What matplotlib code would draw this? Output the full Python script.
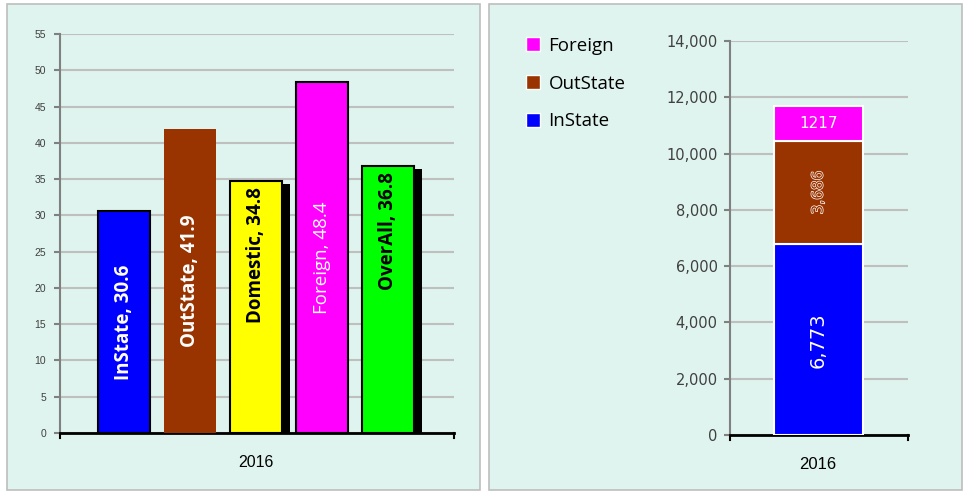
import matplotlib.pyplot as plt
import matplotlib.patheffects as pe
from matplotlib.patches import Rectangle, Patch
from matplotlib.ticker import FuncFormatter

# left panel: average values per group
GROUPS = ["InState", "OutState", "Domestic", "Foreign", "OverAll"]
GROUP_VALUES = [30.6, 41.9, 34.8, 48.4, 36.8]
GROUP_COLORS = ["#0000FF", "#993300", "#FFFF00", "#FF00FF", "#00FF00"]
LEFT_TICKS = list(range(0, 60, 5))

# right panel: stacked counts
YEAR = "2016"
STACK_NAMES = ["InState", "OutState", "Foreign"]
STACK_VALUES = [6773, 3686, 1217]
STACK_LABELS = ["6,773", "3,686", "1217"]
STACK_COLORS = ["#0000FF", "#993300", "#FF00FF"]
RIGHT_TICKS = list(range(0, 16000, 2000))

PANEL_BG = "#DFF4EE"
GRID = "#BFBFBF"

W, H = 963, 491


def fx(px):
    return px / W


def fy(py):
    return 1 - py / H


fig = plt.figure(figsize=(9.63, 4.91), dpi=100)
fig.patch.set_facecolor("white")

# panel backgrounds
for x0, x1 in [(7, 480), (489, 962)]:
    fig.add_artist(Rectangle((fx(x0), fy(490)), fx(x1 - x0), (490 - 4) / H,
                             transform=fig.transFigure, facecolor=PANEL_BG,
                             edgecolor="#BDBDBD", linewidth=1.2, zorder=0))

# ---------------- left chart ----------------
ax1 = fig.add_axes([fx(60), fy(433), fx(394), 399 / H])
ax1.set_facecolor("none")
ax1.set_xlim(-0.97, 5.0)
ax1.set_ylim(0, 55)

xs = list(range(len(GROUPS)))
for x, val, col, name in zip(xs, GROUP_VALUES, GROUP_COLORS, GROUPS):
    edge = "none" if name == "OutState" else "black"
    if name in ("Domestic", "OverAll"):
        # drop shadow
        ax1.bar(x + 0.12, val, width=0.79, bottom=-0.45, color="black", zorder=2)
    ax1.bar(x, val, width=0.79, color=col, edgecolor=edge, linewidth=1.5, zorder=3)

label_style = {
    "InState": ("white", "bold"),
    "OutState": ("white", "bold"),
    "Domestic": ("black", "bold"),
    "Foreign": ("white", "normal"),
    "OverAll": ("black", "bold"),
}
for x, val, name in zip(xs, GROUP_VALUES, GROUPS):
    color, weight = label_style[name]
    txt = f"{name}, {val}"
    if name in ("Domestic", "OverAll"):
        ax1.text(x, val - 0.9, txt, rotation=90, ha="center", va="top",
                 color=color, fontweight=weight, fontsize=13.5,
                 family="Open Sans", zorder=4)
    else:
        ax1.text(x, val / 2, txt, rotation=90, ha="center", va="center",
                 color=color, fontweight=weight, fontsize=13.5,
                 family="Open Sans", zorder=4)

ax1.set_yticks(LEFT_TICKS)
ax1.yaxis.grid(True, color=GRID, linewidth=1.5, zorder=0)
ax1.set_axisbelow(True)
ax1.tick_params(axis="y", labelsize=7.5, colors="#808080", labelcolor="#404040",
                length=4, width=1.5, pad=6)
for lab in ax1.get_yticklabels():
    lab.set_family("Liberation Sans")
ax1.set_xticks([2])
ax1.set_xticklabels([YEAR], fontsize=11.5, family="Liberation Sans")
ax1.tick_params(axis="x", length=0, pad=16)
ax1.spines["left"].set_color("#808080")
ax1.spines["left"].set_linewidth(1.5)
ax1.spines["bottom"].set_linewidth(2)
ax1.spines["top"].set_visible(False)
ax1.spines["right"].set_visible(False)
# end ticks of the bottom axis
for xa in (0, 1):
    ax1.plot([xa, xa], [0, -0.012], transform=ax1.transAxes, color="black",
             linewidth=1.5, clip_on=False)

# ---------------- right chart ----------------
ax2 = fig.add_axes([fx(730), fy(435), fx(178), 394 / H])
ax2.set_facecolor("none")
ax2.set_xlim(-0.99, 1.01)
ax2.set_ylim(0, 14000)

bottom = 0
for name, val, lab, col in zip(STACK_NAMES, STACK_VALUES, STACK_LABELS, STACK_COLORS):
    ax2.bar(0, val, width=1.0, bottom=bottom, color=col, edgecolor="white",
            linewidth=1.5, zorder=3, label=name)
    mid = bottom + val / 2
    if name == "InState":
        ax2.text(0, mid, lab, rotation=90, ha="center", va="center",
                 color="white", fontsize=14, family="DejaVu Sans", zorder=4)
    elif name == "OutState":
        ax2.text(0, mid, lab, rotation=90, ha="center", va="center",
                 color="#993300", fontsize=11, family="DejaVu Sans", zorder=4,
                 path_effects=[pe.withStroke(linewidth=1.0, foreground="white")])
    else:
        ax2.text(0, mid, lab, ha="center", va="center", color="white",
                 fontsize=11, family="DejaVu Sans", zorder=4)
    bottom += val

ax2.set_yticks(RIGHT_TICKS)
ax2.yaxis.set_major_formatter(FuncFormatter(lambda v, p: f"{int(v):,}"))
ax2.yaxis.grid(True, color=GRID, linewidth=1.5, zorder=0)
ax2.set_axisbelow(True)
ax2.tick_params(axis="y", labelsize=10.5, colors="#808080", labelcolor="#404040",
                length=4, width=1.5, pad=5)
ax2.set_xticks([0])
ax2.set_xticklabels([YEAR], fontsize=12, family="Liberation Sans")
ax2.tick_params(axis="x", length=0, pad=16)
ax2.spines["left"].set_color("#808080")
ax2.spines["left"].set_linewidth(1.5)
ax2.spines["bottom"].set_linewidth(2)
ax2.spines["top"].set_visible(False)
ax2.spines["right"].set_visible(False)
for xa in (0, 1):
    ax2.plot([xa, xa], [0, -0.012], transform=ax2.transAxes, color="black",
             linewidth=1.5, clip_on=False)

handles = [Patch(facecolor=c, edgecolor="white", label=n)
           for n, c in zip(STACK_NAMES, STACK_COLORS)][::-1]
fig.legend(handles=handles, loc="upper left", bbox_to_anchor=(fx(509), fy(20)),
           frameon=False, prop={"family": "Open Sans", "size": 13.5},
           handlelength=0.75, handleheight=0.75, handletextpad=0.45,
           labelspacing=1.05)

fig.savefig("out.png", dpi=100)
